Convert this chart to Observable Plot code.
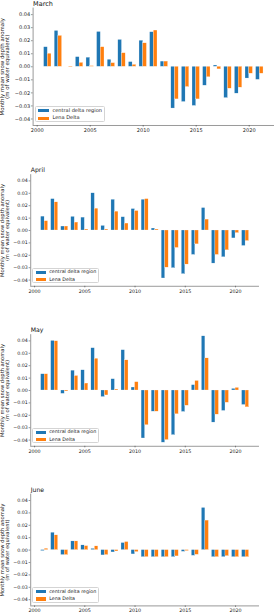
<!DOCTYPE html>
<html><head><meta charset="utf-8">
<script src="https://cdn.jsdelivr.net/npm/d3@7"></script>
<script src="https://cdn.jsdelivr.net/npm/@observablehq/plot@0.6"></script>
<style>
body{margin:0;background:#fff;}
#fig{position:relative;width:275px;height:613px;overflow:hidden;background:#fff;font-family:"DejaVu Sans",sans-serif;}
#fig svg{position:absolute;left:0;}
.legend{position:absolute;border:0.5px solid #d4d4d4;border-radius:1.5px;background:rgba(255,255,255,0.85);box-sizing:border-box;color:#222;}
.legend .row{position:absolute;white-space:nowrap;}
.legend .sw{position:absolute;}
</style>
</head><body>
<div id="fig"></div>
<script>
const years = [2001,2002,2003,2004,2005,2006,2007,2008,2009,2010,2011,2012,2013,2014,2015,2016,2017,2018,2019,2020,2021];
const seriesNames = ["central delta region", "Lena Delta"];
const seriesColors = ["#1f77b4", "#ff7f0e"];
const monthNames = ["March", "April", "May", "June"];
const xTicks = [2000, 2005, 2010, 2015, 2020];
const yTicks = [-0.04, -0.03, -0.02, -0.01, 0, 0.01, 0.02, 0.03, 0.04];
const yLabel = "Monthly mean snow depth anomaly\n(m of water equivalent)";

const marchCentral = [0.015, 0.0275, 0.0, 0.0074, 0.007, 0.0267, 0.0054, 0.0206, 0.0036, 0.020, 0.0265, 0.004, -0.032, -0.027, -0.030, -0.0145, 0.001, -0.024, -0.0206, -0.009, -0.010];
const marchLena    = [0.010, 0.0237, -0.0004, 0.003, 0.0005, 0.015, 0.0028, 0.0104, 0.0015, 0.018, 0.0278, 0.004, -0.025, -0.0155, -0.025, -0.008, -0.002, -0.0168, -0.016, -0.0053, -0.0053];
const aprilCentral = [0.0112, 0.0253, 0.0032, 0.011, 0.0104, 0.030, 0.0037, 0.0248, 0.0107, 0.0173, 0.0248, 0.0016, -0.0387, -0.0304, -0.0352, -0.0197, 0.0181, -0.0267, -0.0216, -0.0064, -0.0125];
const aprilLena    = [0.0075, 0.0227, 0.0032, 0.0064, 0.0008, 0.0176, 0.0008, 0.0152, 0.0056, 0.0157, 0.0253, 0.0008, -0.030, -0.0141, -0.0275, -0.0112, 0.0088, -0.0197, -0.016, -0.0021, -0.0085];
const mayCentral   = [0.0131, 0.040, -0.0027, 0.016, 0.0163, 0.0341, -0.0053, 0.0091, 0.0325, 0.0024, -0.0387, -0.0171, -0.0421, -0.036, -0.0173, 0.0043, 0.0437, -0.0259, -0.0165, 0.0013, -0.0117];
const mayLena      = [0.0131, 0.0397, -0.0008, 0.0117, 0.0056, 0.0256, -0.004, 0.0008, 0.0243, 0.0067, -0.028, -0.0171, -0.040, -0.0192, -0.0123, 0.0077, 0.0259, -0.0195, -0.0099, 0.0021, -0.0136];
const juneCentral  = [-0.0008, 0.014, -0.004, 0.007, 0.0038, 0.001, -0.0043, -0.0019, 0.0057, -0.0035, -0.0057, -0.0057, -0.0057, -0.0057, -0.0014, -0.0046, 0.034, -0.0057, -0.0057, -0.0057, -0.0057];
const juneLena     = [0.0011, 0.0119, -0.004, 0.007, 0.0032, 0.003, -0.004, -0.0011, 0.0065, -0.0016, -0.0057, -0.0057, -0.0057, -0.0051, -0.0008, -0.0038, 0.0238, -0.0057, -0.0049, -0.0057, -0.0057];

const monthSeries = [[marchCentral, marchLena], [aprilCentral, aprilLena], [mayCentral, mayLena], [juneCentral, juneLena]];

// layout (pixels)
const xDomain = [1999.615, 2022.385];
const yDomain = [-0.045, 0.045];
const barW = 0.35;
const panels = [
  {svgTop: 0,   axisTop: 7.6,   axisBottom: 125.0, left: 32.6, right: 274, s: 1.05},
  {svgTop: 150, axisTop: 174.2, axisBottom: 285.8, left: 30.2, right: 259, s: 1},
  {svgTop: 310, axisTop: 334.2, axisBottom: 445.8, left: 30.2, right: 259, s: 1},
  {svgTop: 470, axisTop: 493.8, axisBottom: 605.4, left: 30.2, right: 259, s: 1}
];

const fig = document.getElementById("fig");
const fmtY = d3.format(".2f");

panels.forEach((p, mi) => {
  const s = p.s;
  const rows = [];
  monthSeries[mi].forEach((vals, si) => {
    vals.forEach((v, i) => rows.push({year: years[i], series: seriesNames[si], si, value: v}));
  });
  const marginBottom = 7.6;
  const height = p.axisBottom + marginBottom - p.svgTop;
  const fs = 4.8 * s;
  const chart = Plot.plot({
    width: 275,
    height,
    marginTop: p.axisTop - p.svgTop,
    marginBottom,
    marginLeft: p.left,
    marginRight: 275 - p.right,
    style: {fontFamily: "DejaVu Sans, sans-serif", fontSize: fs + "px", background: "transparent", color: "#222", overflow: "visible"},
    x: {type: "linear", domain: xDomain},
    y: {domain: yDomain},
    color: {domain: seriesNames, range: seriesColors},
    marks: [
      Plot.rect(rows, {
        x1: d => d.year + (d.si === 0 ? -barW : 0),
        x2: d => d.year + (d.si === 0 ? 0 : barW),
        y1: () => 0,
        y2: "value",
        fill: "series",
        stroke: "white",
        strokeWidth: 0.25
      }),
      Plot.ruleX([xDomain[0]], {stroke: "#333", strokeWidth: 0.5}),
      Plot.ruleY([yDomain[0]], {stroke: "#333", strokeWidth: 0.5}),
      Plot.axisX(xTicks, {tickSize: 1.6 * s, tickPadding: 1.2 * s, tickFormat: d => String(d), stroke: "#333", strokeWidth: 0.5, fill: "#222", label: null}),
      Plot.axisY(yTicks, {tickSize: 1.6 * s, tickPadding: 1.2 * s, tickFormat: fmtY, stroke: "#333", strokeWidth: 0.5, fill: "#222", label: null}),
      Plot.text([monthNames[mi]], {frameAnchor: "top-left", textAnchor: "start", lineAnchor: "bottom", dy: -2.4, fontSize: 6.2 * s, fill: "#111"}),
      Plot.text([yLabel], {frameAnchor: "left", rotate: -90, textAnchor: "middle", lineAnchor: "middle", lineHeight: 0.98, dx: -(p.left - 4.6), fontSize: 5.2 * s, fill: "#222"})
    ]
  });
  chart.style.top = p.svgTop + "px";
  fig.appendChild(chart);

  // legend (HTML overlay inside axes, lower left)
  const lg = document.createElement("div");
  lg.className = "legend";
  const w = 66.5 * s, h = 15.6 * s;
  lg.style.left = (p.left + 2.0 * s) + "px";
  lg.style.top = (p.axisBottom - 2.6 * s - h) + "px";
  lg.style.width = w + "px";
  lg.style.height = h + "px";
  seriesNames.forEach((name, si) => {
    const sw = document.createElement("div");
    sw.className = "sw";
    sw.style.left = (2.4 * s) + "px";
    sw.style.top = ((2.0 + si * 7.2) * s) + "px";
    sw.style.width = (10 * s) + "px";
    sw.style.height = (3.2 * s) + "px";
    sw.style.background = seriesColors[si];
    lg.appendChild(sw);
    const tx = document.createElement("div");
    tx.className = "row";
    tx.textContent = name;
    tx.style.left = (16 * s) + "px";
    tx.style.top = ((0.9 + si * 7.2) * s) + "px";
    tx.style.fontSize = (4.8 * s) + "px";
    tx.style.lineHeight = (5.4 * s) + "px";
    lg.appendChild(tx);
  });
  fig.appendChild(lg);
});
</script>
</body></html>
